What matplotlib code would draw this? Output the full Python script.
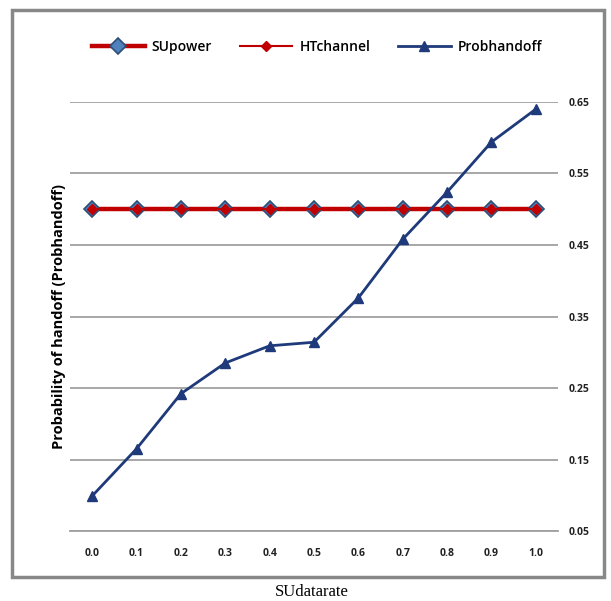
import matplotlib
matplotlib.use("Agg")
import matplotlib.pyplot as plt
from matplotlib.patches import Rectangle
import numpy as np

categories = ["0.0", "0.1", "0.2", "0.3", "0.4", "0.5", "0.6", "0.7", "0.8", "0.9", "1.0"]
su_power = [0.5] * 11
ht_channel = [0.5] * 11
prob_handoff = [0.099, 0.165, 0.242, 0.285, 0.309, 0.314, 0.376, 0.458, 0.524, 0.594, 0.640]
y_ticks = [0.05, 0.15, 0.25, 0.35, 0.45, 0.55, 0.65]

W, H = 611, 601
fig = plt.figure(figsize=(W / 100, H / 100), dpi=100)
ax = fig.add_axes([70 / W, (H - 531) / H, (558 - 70) / W, (531 - 102) / H])

x = np.arange(len(categories))
red = "#C00000"
navy = "#1F3A7A"

ax.plot(x, su_power, color=red, lw=3.2, marker="D", markersize=8.5,
        markerfacecolor="#4F81BD", markeredgecolor="#2C4D75", markeredgewidth=1.2,
        label="SUpower", zorder=3)
ax.plot(x, ht_channel, color=red, lw=1.5, marker="D", markersize=5,
        markerfacecolor=red, markeredgecolor=red, label="HTchannel", zorder=4)
ax.plot(x, prob_handoff, color=navy, lw=2, marker="^", markersize=7,
        markerfacecolor=navy, markeredgecolor=navy, label="Probhandoff", zorder=5)

ax.set_xlim(-0.5, len(categories) - 0.5)
ax.set_ylim(0.05, 0.65)
ax.set_xticks(x)
ax.set_xticklabels(categories)
ax.set_yticks(y_ticks)
ax.set_yticklabels([f"{v:.2f}" for v in y_ticks])
ax.yaxis.tick_right()
ax.grid(axis="y", color="#A0A0A0", lw=1.3)
ax.set_axisbelow(True)
for s in ["top", "left", "right"]:
    ax.spines[s].set_visible(False)
ax.spines["bottom"].set_color("#A0A0A0")
ax.spines["bottom"].set_linewidth(1.3)
ax.tick_params(axis="both", length=0, labelsize=7.5, colors="#222222")
ax.tick_params(axis="x", pad=12)
ax.tick_params(axis="y", pad=8)
for lab in ax.get_xticklabels() + ax.get_yticklabels():
    lab.set_fontweight("bold")
    lab.set_family("Open Sans")

ax.set_ylabel("Probability of handoff (Probhandoff)", fontsize=10.5, fontweight="bold",
              family="Open Sans", labelpad=3)

leg = fig.legend(loc="center", bbox_to_anchor=(317 / W, 1 - 47 / H), ncol=3,
                 frameon=False, handlelength=3.8, columnspacing=2.0, handletextpad=0.5,
                 prop={"family": "Open Sans", "size": 10, "weight": "semibold"})

fig.text(312 / W, 1 - 592 / H, "SUdatarate", family="Liberation Serif", fontsize=12,
         ha="center", va="center")

fig.patches.append(Rectangle((12 / W, 1 - 577 / H), (604 - 12) / W, (577 - 10) / H,
                             transform=fig.transFigure, fill=False,
                             edgecolor="#888888", lw=2.5))

fig.savefig("out.png", dpi=100)
